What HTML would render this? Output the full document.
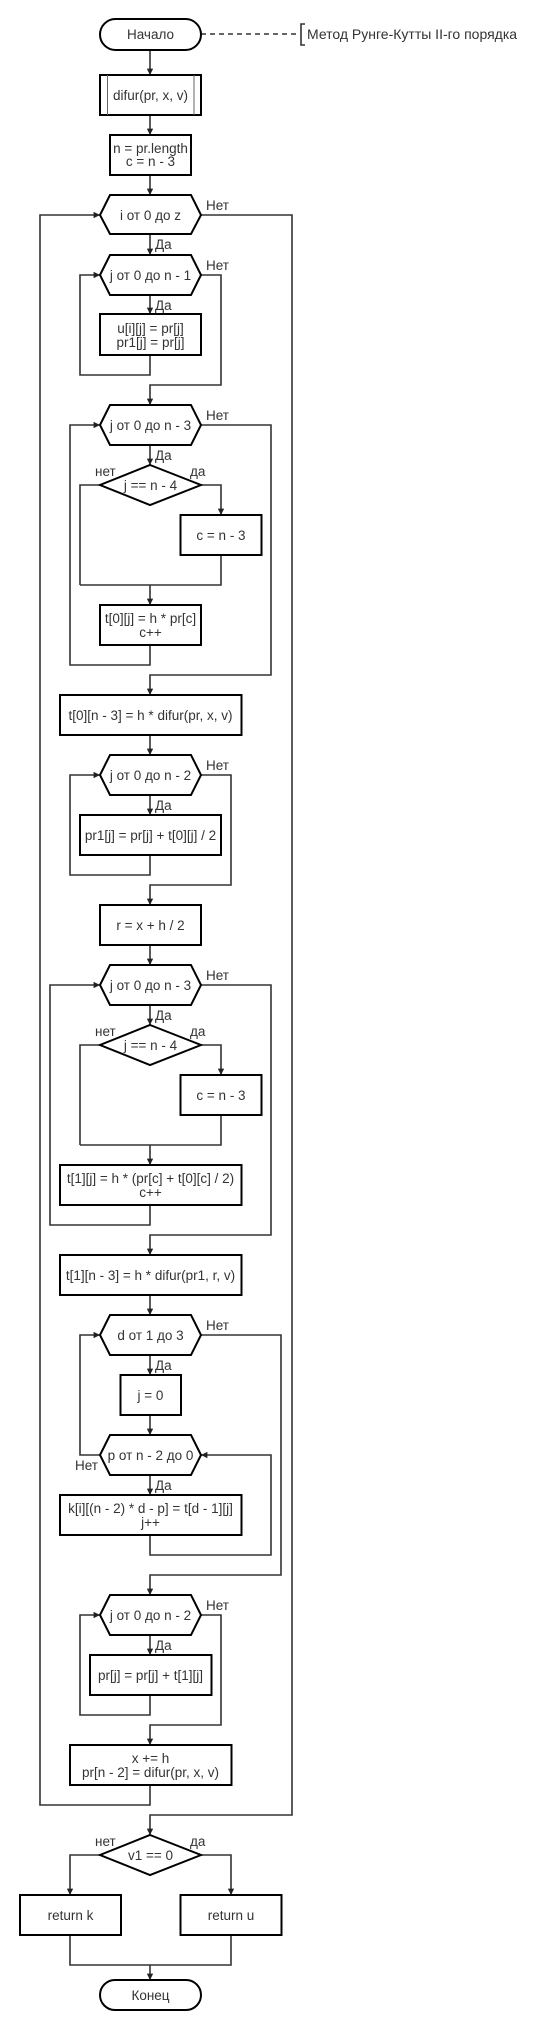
<!DOCTYPE html>
<html><head><meta charset="utf-8"><style>
html,body{margin:0;padding:0;background:#fff;}
svg{display:block;}
text{font-family:"Liberation Sans",Arial,sans-serif;font-size:13.5px;fill:#333;}
.s{fill:#fff;stroke:#000;stroke-width:2;}
.l{fill:none;stroke:#333;stroke-width:1.6;}
</style></head><body>
<svg width="550" height="2030" viewBox="0 0 550 2030" xmlns="http://www.w3.org/2000/svg">
<defs><marker id="a" viewBox="0 0 6 6" refX="6" refY="3" markerWidth="4" markerHeight="4" orient="auto"><path d="M0,0L6,3L0,6z" fill="#222"/></marker></defs>

<g class="l">
<path d="M150,50V75" marker-end="url(#a)"/>
<path d="M150,115V135" marker-end="url(#a)"/>
<path d="M150,175V195" marker-end="url(#a)"/>
<path d="M150,234V255" marker-end="url(#a)"/>
<path d="M150,295V314" marker-end="url(#a)"/>
<path d="M150,355V375H80V275H100" marker-end="url(#a)"/>
<path d="M201,275H221V385H150V405" marker-end="url(#a)"/>
<path d="M150,445V465" marker-end="url(#a)"/>
<path d="M100,485H80V585"/>
<path d="M201,485H221V515" marker-end="url(#a)"/>
<path d="M221,555V585H80"/>
<path d="M150,585V605" marker-end="url(#a)"/>
<path d="M150,645V665H70V425H100" marker-end="url(#a)"/>
<path d="M201,425H271V675H150V695" marker-end="url(#a)"/>
<path d="M150,735V755" marker-end="url(#a)"/>
<path d="M150,795V815" marker-end="url(#a)"/>
<path d="M150,855V875H70V775H100" marker-end="url(#a)"/>
<path d="M201,775H231V885H150V905" marker-end="url(#a)"/>
<path d="M150,945V965" marker-end="url(#a)"/>
<path d="M150,1005V1025" marker-end="url(#a)"/>
<path d="M100,1045H80V1145"/>
<path d="M201,1045H221V1075" marker-end="url(#a)"/>
<path d="M221,1115V1145H80"/>
<path d="M150,1145V1165" marker-end="url(#a)"/>
<path d="M150,1205V1225H50V985H100" marker-end="url(#a)"/>
<path d="M201,985H271V1235H150V1255" marker-end="url(#a)"/>
<path d="M150,1295V1315" marker-end="url(#a)"/>
<path d="M150,1355V1375" marker-end="url(#a)"/>
<path d="M150,1415V1435" marker-end="url(#a)"/>
<path d="M150,1475V1495" marker-end="url(#a)"/>
<path d="M100,1455H80V1335H100" marker-end="url(#a)"/>
<path d="M150,1535V1555H271V1455H201" marker-end="url(#a)"/>
<path d="M201,1335H281V1575H150V1595" marker-end="url(#a)"/>
<path d="M150,1635V1655" marker-end="url(#a)"/>
<path d="M150,1695V1715H80V1615H100" marker-end="url(#a)"/>
<path d="M201,1615H221V1725H150V1745" marker-end="url(#a)"/>
<path d="M150,1785V1805H40V215H100" marker-end="url(#a)"/>
<path d="M201,215H292V1815H150V1835" marker-end="url(#a)"/>
<path d="M100,1855H70V1895" marker-end="url(#a)"/>
<path d="M201,1855H231V1895" marker-end="url(#a)"/>
<path d="M70,1935V1965H231V1935"/>
<path d="M150,1965V1980" marker-end="url(#a)"/>
<path d="M201,34H300" stroke-dasharray="5,4"/>
<path d="M305,24H301V45H305"/>
</g>

<rect class="s" x="100" y="19" width="101" height="31" rx="15.5"/>
<rect class="s" x="100" y="75" width="101" height="40"/>
<path d="M107.5,75V115M194,75V115" stroke="#666" stroke-width="1" fill="none"/>
<rect class="s" x="110" y="135" width="81" height="40"/>
<g class="s">
<path d="M100,215L110,195H191L201,215L191,234H110Z"/>
<path d="M100,275L110,255H191L201,275L191,295H110Z"/>
<rect x="100" y="314" width="101" height="41"/>
<path d="M100,425L110,405H191L201,425L191,445H110Z"/>
<path d="M150,465L201,485L150,505L100,485Z"/>
<rect x="180.5" y="515" width="81" height="40"/>
<rect x="100" y="605" width="101" height="40"/>
<rect x="60" y="695" width="181.5" height="40"/>
<path d="M100,775L110,755H191L201,775L191,795H110Z"/>
<rect x="80" y="815" width="141" height="40"/>
<rect x="100" y="905" width="101" height="40"/>
<path d="M100,985L110,965H191L201,985L191,1005H110Z"/>
<path d="M150,1025L201,1045L150,1065L100,1045Z"/>
<rect x="180.5" y="1075" width="81" height="40"/>
<rect x="60" y="1165" width="181.5" height="40"/>
<rect x="60" y="1255" width="181.5" height="40"/>
<path d="M100,1335L110,1315H191L201,1335L191,1355H110Z"/>
<rect x="120.5" y="1375" width="60.5" height="40"/>
<path d="M100,1455L110,1435H191L201,1455L191,1475H110Z"/>
<rect x="60" y="1495" width="181.5" height="40"/>
<path d="M100,1615L110,1595H191L201,1615L191,1635H110Z"/>
<rect x="90" y="1655" width="121.5" height="40"/>
<rect x="70" y="1745" width="161.5" height="40"/>
<path d="M150,1835L201,1855L150,1875L100,1855Z"/>
<rect x="20" y="1895" width="101" height="40"/>
<rect x="180.5" y="1895" width="101" height="40"/>
<rect x="100" y="1980" width="101" height="30" rx="15"/>
</g>

<g text-anchor="middle">
<text x="150.5" y="39">Начало</text>
<text x="150.5" y="100">difur(pr, x, v)</text>
<text x="150.5" y="153">n = pr.length</text>
<text x="150.5" y="166">c = n - 3</text>
<text x="150.5" y="220">i от 0 до z</text>
<text x="150.5" y="280">j от 0 до n - 1</text>
<text x="150.5" y="333">u[i][j] = pr[j]</text>
<text x="150.5" y="347">pr1[j] = pr[j]</text>
<text x="150.5" y="430">j от 0 до n - 3</text>
<text x="150.5" y="490">j == n - 4</text>
<text x="221" y="540">c = n - 3</text>
<text x="150.5" y="623">t[0][j] = h * pr[c]</text>
<text x="150.5" y="637">c++</text>
<text x="150.5" y="720">t[0][n - 3] = h * difur(pr, x, v)</text>
<text x="150.5" y="780">j от 0 до n - 2</text>
<text x="150.5" y="840">pr1[j] = pr[j] + t[0][j] / 2</text>
<text x="150.5" y="930">r = x + h / 2</text>
<text x="150.5" y="990">j от 0 до n - 3</text>
<text x="150.5" y="1050">j == n - 4</text>
<text x="221" y="1100">c = n - 3</text>
<text x="150.5" y="1183">t[1][j] = h * (pr[c] + t[0][c] / 2)</text>
<text x="150.5" y="1197">c++</text>
<text x="150.5" y="1280">t[1][n - 3] = h * difur(pr1, r, v)</text>
<text x="150.5" y="1340">d от 1 до 3</text>
<text x="150.5" y="1400">j = 0</text>
<text x="150.5" y="1460">p от n - 2 до 0</text>
<text x="150.5" y="1513">k[i][(n - 2) * d - p] = t[d - 1][j]</text>
<text x="150.5" y="1527">j++</text>
<text x="150.5" y="1620">j от 0 до n - 2</text>
<text x="150.5" y="1680">pr[j] = pr[j] + t[1][j]</text>
<text x="150.5" y="1763">x += h</text>
<text x="150.5" y="1777">pr[n - 2] = difur(pr, x, v)</text>
<text x="150.5" y="1860">v1 == 0</text>
<text x="70.5" y="1920">return k</text>
<text x="231" y="1920">return u</text>
<text x="150.5" y="2000">Конец</text>
</g>
<g>
<text x="307" y="39" style="font-size:14px">Метод Рунге-Кутты II-го порядка</text>
<text x="206" y="210">Нет</text><text x="155" y="249">Да</text>
<text x="206" y="270">Нет</text><text x="155" y="310">Да</text>
<text x="206" y="420">Нет</text><text x="155" y="460">Да</text>
<text x="95" y="476">нет</text><text x="190" y="476">да</text>
<text x="206" y="770">Нет</text><text x="155" y="810">Да</text>
<text x="206" y="980">Нет</text><text x="155" y="1020">Да</text>
<text x="95" y="1036">нет</text><text x="190" y="1036">да</text>
<text x="206" y="1330">Нет</text><text x="155" y="1370">Да</text>
<text x="75" y="1470">Нет</text><text x="155" y="1490">Да</text>
<text x="206" y="1610">Нет</text><text x="155" y="1650">Да</text>
<text x="95" y="1846">нет</text><text x="190" y="1846">да</text>
</g>
</svg>
</body></html>
